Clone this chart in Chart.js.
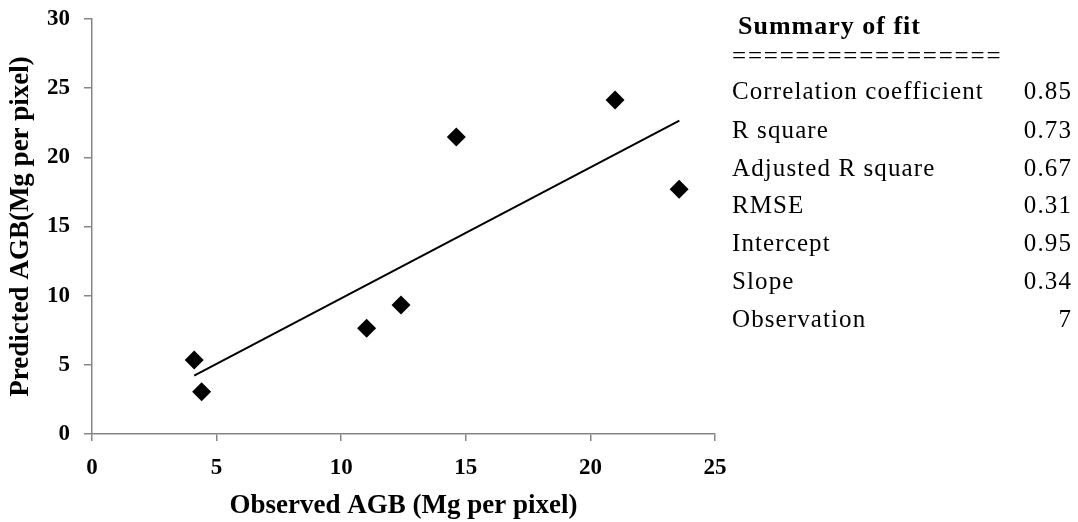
<!DOCTYPE html>
<html>
<head>
<meta charset="utf-8">
<script src="https://cdn.jsdelivr.net/npm/chart.js@4/dist/chart.umd.min.js"></script>
<style>
  html, body { margin: 0; padding: 0; background: #ffffff; }
  #wrap { width: 1078px; height: 522px; position: relative; }
</style>
</head>
<body>
<div id="wrap"><canvas id="c" width="1078" height="522"></canvas></div>
<script>
// ---- data ----
const observedAGB  = [4.10, 4.40, 11.02, 12.40, 14.62, 20.99, 23.56];
const predictedAGB = [5.35, 3.06, 7.64, 9.33, 21.47, 24.15, 17.69];
const trendX = [4.10, 23.57];
const trendY = [4.22, 22.66];
const xTicks = [0, 5, 10, 15, 20, 25];
const yTicks = [0, 5, 10, 15, 20, 25, 30];
const summaryTitle = "Summary of fit";
const summaryRule = "=================";
const summaryLabels = ["Correlation coefficient", "R square", "Adjusted R square", "RMSE", "Intercept", "Slope", "Observation"];
const summaryValues = ["0.85", "0.73", "0.67", "0.31", "0.95", "0.34", "7"];

const SERIF = "'Liberation Serif', 'Times New Roman', serif";
const AXIS_GRAY = '#868686';

const summaryPlugin = {
  id: 'summary',
  afterDraw(chart) {
    const ctx = chart.ctx;
    ctx.save();
    ctx.fillStyle = '#000';
    ctx.textBaseline = 'middle';
    ctx.textAlign = 'left';
    ctx.font = "bold 26px " + SERIF;
    ctx.letterSpacing = '1px';
    ctx.fillText(summaryTitle, 738, 27);
    ctx.font = "25px " + SERIF;
    ctx.letterSpacing = '1.8px';
    ctx.fillText(summaryRule, 732, 57);
    ctx.letterSpacing = '1.1px';
    const rowY = [92, 131, 169, 206, 244, 282, 320];
    for (let i = 0; i < summaryLabels.length; i++) {
      const y = rowY[i];
      ctx.textAlign = 'left';
      ctx.fillText(summaryLabels[i], 732, y);
      ctx.textAlign = 'right';
      ctx.fillText(summaryValues[i], 1072, y);
    }
    ctx.restore();
  }
};

new Chart(document.getElementById('c'), {
  type: 'scatter',
  data: {
    datasets: [
      {
        label: 'Observations',
        data: observedAGB.map((x, i) => ({ x: x, y: predictedAGB[i] })),
        pointStyle: 'rectRot',
        pointRadius: 9.5,
        pointHoverRadius: 9.5,
        backgroundColor: '#000',
        borderColor: '#000',
        borderWidth: 0,
        order: 1
      },
      {
        type: 'line',
        label: 'Linear fit',
        data: trendX.map((x, i) => ({ x: x, y: trendY[i] })),
        borderColor: '#000',
        borderWidth: 2,
        pointRadius: 0,
        fill: false,
        order: 2
      }
    ]
  },
  options: {
    responsive: false,
    animation: false,
    events: [],
    layout: { padding: { top: 0, right: 363, bottom: 0, left: 0 } },
    plugins: {
      legend: { display: false },
      tooltip: { enabled: false }
    },
    scales: {
      x: {
        type: 'linear',
        min: 0, max: 25,
        afterBuildTicks(s) { s.ticks = xTicks.map(v => ({ value: v })); },
        afterFit(s) { s.height = 88; },
        grid: { display: true, drawOnChartArea: false, drawTicks: true, tickLength: 7, color: AXIS_GRAY, lineWidth: 1.5 },
        border: { display: true, color: AXIS_GRAY, width: 1.5 },
        ticks: { color: '#000', font: { family: SERIF, size: 23, weight: 'bold' }, padding: 13, maxRotation: 0 },
        title: {
          display: true,
          text: 'Observed AGB (Mg per pixel)',
          color: '#000',
          font: { family: SERIF, size: 27, weight: 'bold' },
          padding: { top: 0, bottom: 0 }
        }
      },
      y: {
        type: 'linear',
        min: 0, max: 30,
        afterBuildTicks(s) { s.ticks = yTicks.map(v => ({ value: v })); },
        afterFit(s) { s.width = 92; s.paddingTop = 19; s.paddingBottom = 0; },
        grid: { display: true, drawOnChartArea: false, drawTicks: true, tickLength: 8, color: AXIS_GRAY, lineWidth: 1.5 },
        border: { display: true, color: AXIS_GRAY, width: 1.5 },
        ticks: { color: '#000', font: { family: SERIF, size: 23, weight: 'bold' }, padding: 14 },
        title: {
          display: true,
          text: 'Predicted AGB(Mg per pixel)',
          color: '#000',
          font: { family: SERIF, size: 27, weight: 'bold' },
          padding: { top: 5, bottom: 0 }
        }
      }
    }
  },
  plugins: [summaryPlugin]
});
</script>
</body>
</html>
